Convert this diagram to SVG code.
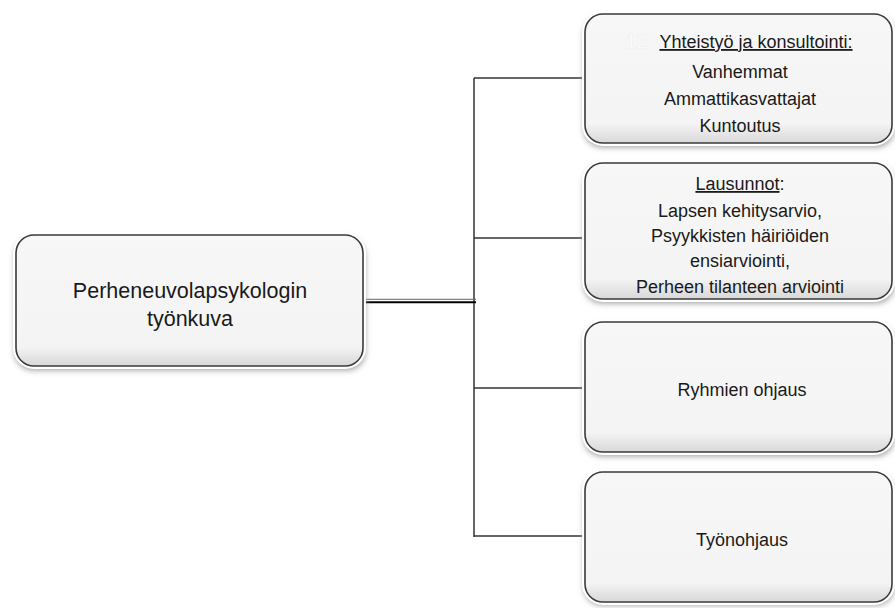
<svg xmlns="http://www.w3.org/2000/svg" width="895" height="608" viewBox="0 0 895 608">
  <defs>
    <filter id="soft" x="-10%" y="-10%" width="120%" height="130%">
      <feGaussianBlur stdDeviation="3"/>
    </filter>
    <linearGradient id="bevel" x1="0" y1="0" x2="0" y2="1">
      <stop offset="0" stop-color="#f7f7f7"/>
      <stop offset="0.85" stop-color="#f4f4f4"/>
      <stop offset="1" stop-color="#d8d8d8"/>
    </linearGradient>
  </defs>
  <style>
    .shadow { fill: #9a9a9a; filter: url(#soft); }
    .halo { fill: #ffffff; stroke: #ffffff; stroke-width: 6; }
    .box { fill: url(#bevel); stroke: #3a3a3a; stroke-width: 1.6; }
    .t { font-family: "Liberation Sans", Arial, sans-serif; fill: #1a1a1a; text-anchor: middle; }
    .big { font-size: 21.5px; }
    .sm { font-size: 18px; }
    .u { text-decoration: underline; }
    .conn { fill: none; stroke: #333333; stroke-width: 1.5; }
  </style>
  <rect width="895" height="608" fill="#ffffff"/>

  <!-- connectors -->
  <g id="connectors">
    <line class="conn" x1="474" y1="78" x2="474" y2="537"/>
    <line class="conn" x1="474" y1="78" x2="585" y2="78"/>
    <line class="conn" x1="474" y1="238" x2="585" y2="238"/>
    <line class="conn" x1="474" y1="388" x2="585" y2="388"/>
    <line class="conn" x1="474" y1="536" x2="585" y2="536"/>
    <line x1="365" y1="299.3" x2="476" y2="299.3" stroke="#666666" stroke-width="1"/>
    <line x1="365" y1="302.3" x2="476" y2="302.3" stroke="#000000" stroke-width="2"/>
  </g>

  <!-- root node -->
  <g id="root">
    <rect class="shadow" x="15" y="238" width="350" height="132" rx="18"/>
    <rect class="halo" x="16" y="235" width="347" height="131" rx="18"/>
    <rect class="box" x="16" y="235" width="347" height="131" rx="18"/>
    <text class="t big" x="190" y="298">Perheneuvolapsykologin</text>
    <text class="t big" x="190" y="326">työnkuva</text>
  </g>

  <!-- cooperation and consulting -->
  <g id="yhteistyo">
    <rect class="shadow" x="584" y="17" width="310" height="130" rx="18"/>
    <rect class="halo" x="585" y="14" width="307" height="129" rx="18"/>
    <rect class="box" x="585" y="14" width="307" height="129" rx="18"/>
    <text x="637" y="48" font-family="Liberation Sans, Arial, sans-serif" font-size="21" fill="#ffffff" stroke="#ececec" stroke-width="0.5" text-anchor="middle">12</text>
    <text class="t sm u" x="756" y="48">Yhteistyö ja konsultointi:</text>
    <text class="t sm" x="740" y="78">Vanhemmat</text>
    <text class="t sm" x="740" y="105">Ammattikasvattajat</text>
    <text class="t sm" x="740" y="132">Kuntoutus</text>
  </g>

  <!-- statements -->
  <g id="lausunnot">
    <rect class="shadow" x="584" y="166" width="310" height="137" rx="18"/>
    <rect class="halo" x="585" y="163" width="307" height="136" rx="18"/>
    <rect class="box" x="585" y="163" width="307" height="136" rx="18"/>
    <text class="t sm" x="740" y="190"><tspan class="u">Lausunnot</tspan>:</text>
    <text class="t sm" x="740" y="217">Lapsen kehitysarvio,</text>
    <text class="t sm" x="740" y="242">Psyykkisten häiriöiden</text>
    <text class="t sm" x="740" y="267">ensiarviointi,</text>
    <text class="t sm" x="740" y="293">Perheen tilanteen arviointi</text>
  </g>

  <!-- group guidance -->
  <g id="ryhmat">
    <rect class="shadow" x="584" y="325" width="310" height="131" rx="18"/>
    <rect class="halo" x="585" y="322" width="307" height="130" rx="18"/>
    <rect class="box" x="585" y="322" width="307" height="130" rx="18"/>
    <text class="t sm" x="742" y="396">Ryhmien ohjaus</text>
  </g>

  <!-- work supervision -->
  <g id="tyonohjaus">
    <rect class="shadow" x="584" y="475" width="310" height="130" rx="18"/>
    <rect class="halo" x="585" y="472" width="307" height="130" rx="18"/>
    <rect class="box" x="585" y="472" width="307" height="130" rx="18"/>
    <text class="t sm" x="742" y="546">Työnohjaus</text>
  </g>
</svg>
